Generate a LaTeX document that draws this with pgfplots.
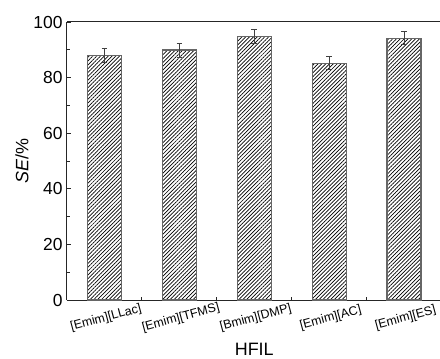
\documentclass[border=0pt]{standalone}
\usepackage{pgfplots}
\pgfplotsset{compat=1.18}
\usetikzlibrary{patterns.meta}
\usepackage{fontspec}
\setmainfont{Liberation Sans}
\begin{document}
\begin{tikzpicture}
\begin{axis}[
  scale only axis, width=374.5bp, height=278bp,
  xmin=0.5, xmax=5.5, ymin=0, ymax=100,
  axis x line=box, axis y line=left,
  axis line style={-, line width=1bp, draw=black!85},
  xtick pos=bottom, ytick pos=left,
  ytick={0,20,...,100}, minor ytick={10,30,...,90},
  xtick={1,2,3,4,5},
  xticklabels={{[Emim][LLac]},{[Emim][TFMS]},{[Bmim][DMP]},{[Emim][AC]},{[Emim][ES]}},
  minor xtick={1.5,2.5,3.5,4.5},
  tick align=inside, major tick length=4bp, minor tick length=3bp,
  tick style={line width=0.8bp, black!85},
  major x tick style={draw=none},
  /pgf/number format/assume math mode=true,
  yticklabel style={font=\fontsize{17.5}{20}\selectfont, xshift=-1bp},
  xticklabel style={font=\fontsize{12.5}{15}\selectfont, anchor=center, yshift=-18bp, xshift=1.5bp, rotate=15},
  xlabel={HFIL}, ylabel={\textit{SE}/\%},
  xlabel style={font=\fontsize{18}{21}\selectfont, yshift=-1.5bp},
  ylabel style={font=\fontsize{18}{21}\selectfont, yshift=-2bp},
]
\addplot[ybar, bar width=34bp, draw=black!60, line width=1.2bp, fill=white,
  postaction={pattern={Lines[angle=45,distance=2.7bp,line width=0.7bp]}},
  error bars/.cd, y dir=both, y explicit,
  error bar style={line width=0.8bp, black!75},
  error mark options={rotate=90, mark size=2.8bp, line width=0.8bp, black!75}]
coordinates {(1,88.0) +- (0,2.4) (2,89.9) +- (0,2.5) (3,94.8) +- (0,2.4) (4,85.2) +- (0,2.4) (5,94.2) +- (0,2.4)};
\coordinate (bl) at (rel axis cs:0,0);
\end{axis}
\pgfresetboundingbox
\path (bl) ++(-67bp,-59bp) rectangle ++(440bp,359bp);
\end{tikzpicture}
\end{document}
